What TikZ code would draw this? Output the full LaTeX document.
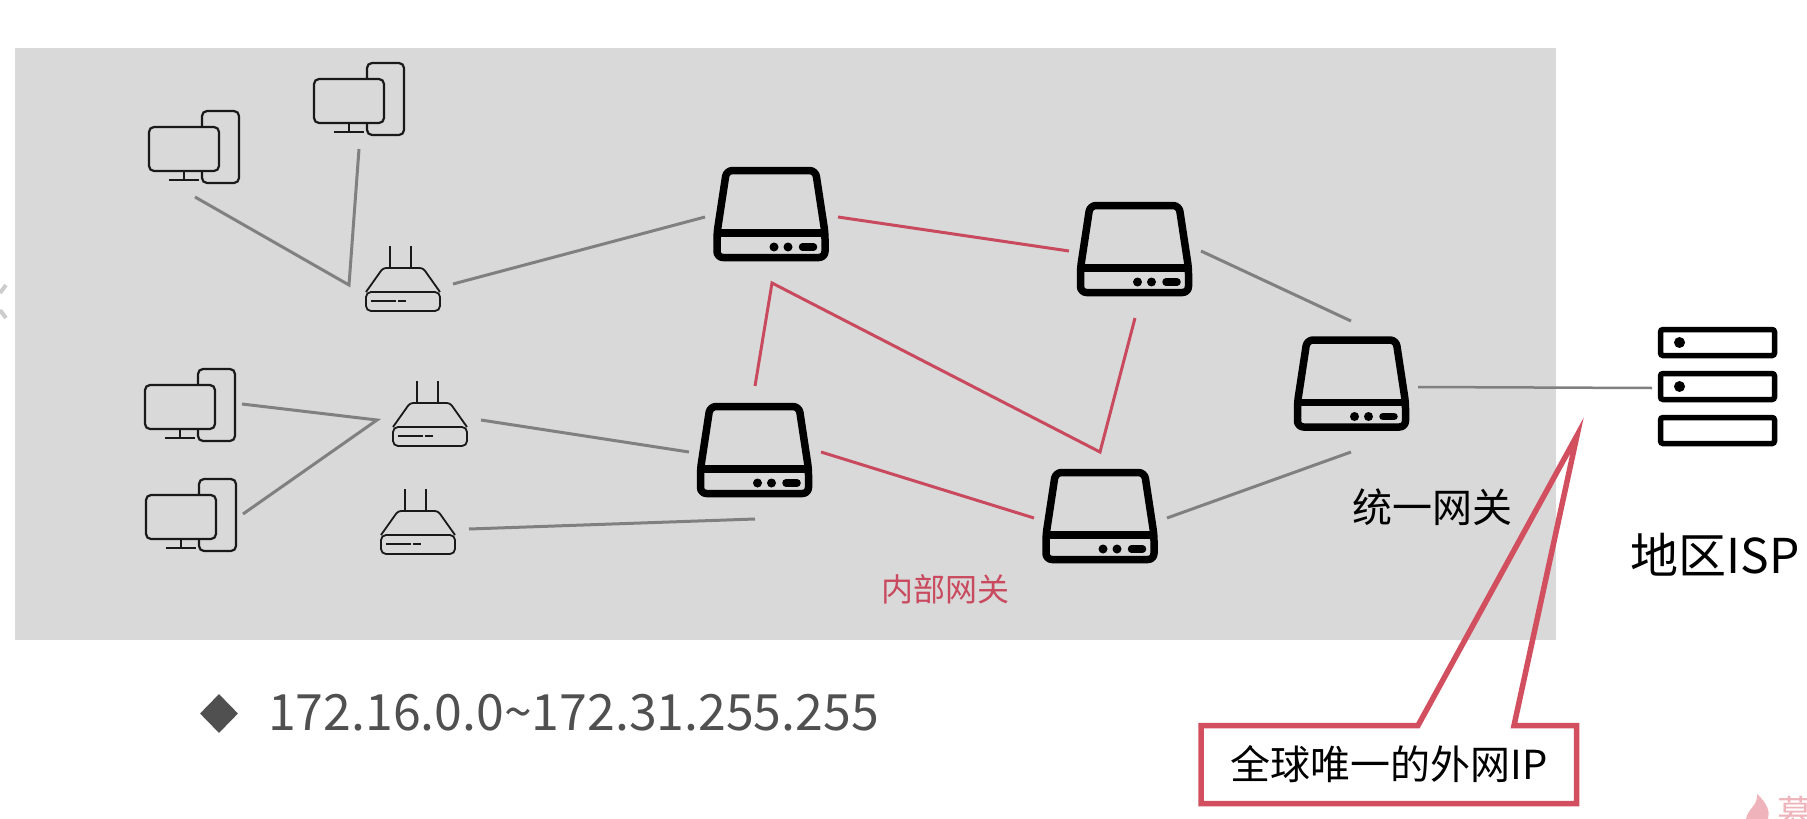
\documentclass[tikz,border=0pt]{standalone}
\usepackage{fontspec}
\setmainfont{Noto Sans CJK SC}
\usetikzlibrary{shapes.geometric}
\definecolor{panelgray}{HTML}{D9D9D9}
\definecolor{linkgray}{HTML}{808080}
\definecolor{linkred}{HTML}{C94A5E}
\definecolor{boxred}{HTML}{D24F60}
\definecolor{textgray}{HTML}{505050}
\definecolor{markpink}{HTML}{EFB3BB}
\tikzstyle{graylink} = [linkgray,line width=3pt]
\tikzstyle{redlink} = [linkred,line width=3pt]
\tikzstyle{thinicon} = [black!90,line width=2.2pt,rounded corners=5pt]
\tikzstyle{fatbox} = [black,line width=5.5pt,rounded corners=2.5pt]
\tikzset{
	pcicon/.pic={
		\draw [thinicon] (53,0)--(53,-16)--(90,-16)--(90,56)--(53,56)--(53,44);
		\draw [thinicon] (0,0) rectangle (70,44);
		\draw [thinicon] (35,44)--(35,53);
		\draw [thinicon] (20,53)--(50,53);
	},
	routericon/.pic={
		\draw [black!90,line width=1.8pt,rounded corners=3pt] (0,0)--(17,-24)--(57,-24)--(74,0);
		\draw [black!90,line width=1.8pt,rounded corners=5pt] (0,0)--(0,19)--(74,19)--(74,0)--cycle;
		\draw [black!90,line width=1.8pt] (24,-24)--(24,-46);
		\draw [black!90,line width=1.8pt] (45,-24)--(45,-46);
		\draw [black!90,line width=1.8pt] (5,9)--(30,9);
		\draw [black!90,line width=1.8pt] (32,9)--(40,9);
	},
	gateicon/.pic={
		\draw [black,line width=7.5pt,rounded corners=6pt,line join=round] (-54,19)--(-44.5,-43.5)--(44.5,-43.5)--(54,19)--(54,43.5)--(-54,43.5)--cycle;
		\draw [black,line width=7.5pt] (-54,19)--(54,19);
		\fill [black] (3,33) circle (4.5pt);
		\fill [black] (17,33) circle (4.5pt);
		\draw [black,line width=7.5pt,line cap=round] (31.5,33)--(42.5,33);
	},
	ispicon/.pic={
		\draw [fatbox] (0,0) rectangle (114,26);
		\draw [fatbox] (0,44) rectangle (114,70);
		\draw [fatbox] (0,88) rectangle (114,114);
		\fill [black] (19,13) circle (5.5pt);
		\fill [black] (19,57) circle (5.5pt);
	}
}
\begin{document}
\begin{tikzpicture}[x=1pt,y=-1pt]
	\useasboundingbox (0,0) rectangle (1807,819);
	\fill [panelgray] (15,48) rectangle (1556,640);

	\draw [gray!40,line width=4pt] (6,285)--(0,293);
	\draw [gray!40,line width=4pt] (0,310)--(6,318);

	\pic (pca) at (149,127) {pcicon};
	\pic (pcb) at (314,79) {pcicon};
	\pic (pcc) at (145,385) {pcicon};
	\pic (pcd) at (146,495) {pcicon};
	\pic (rta) at (366,292) {routericon};
	\pic (rtb) at (393,427) {routericon};
	\pic (rtc) at (381,535) {routericon};
	\pic (gwa) at (771,214) {gateicon};
	\pic (gwb) at (1134.5,249) {gateicon};
	\pic (gwc) at (754.5,450) {gateicon};
	\pic (gwd) at (1100,516) {gateicon};
	\pic (gwe) at (1351.5,383.5) {gateicon};
	\pic (isp) at (1660.5,329.5) {ispicon};

	\coordinate (pcaend) at (195,197);
	\coordinate (pcbend) at (359,149);
	\coordinate (rtain) at (349,285);
	\coordinate (rtaout) at (453,284);
	\coordinate (pccend) at (242,404);
	\coordinate (pcdend) at (243,514);
	\coordinate (rtbin) at (377,420);
	\coordinate (rtbout) at (481,420);
	\coordinate (rtcout) at (469,529);
	\coordinate (gwawest) at (705,217);
	\coordinate (gwaeast) at (838,217);
	\coordinate (gwasouth) at (772,283);
	\coordinate (gwbwest) at (1069,251);
	\coordinate (gwbeast) at (1201,251);
	\coordinate (gwbsouth) at (1135,318);
	\coordinate (gwcwest) at (689,452);
	\coordinate (gwceast) at (821,452);
	\coordinate (gwcnorth) at (755,386);
	\coordinate (gwcsouth) at (755,519);
	\coordinate (gwdwest) at (1034,518);
	\coordinate (gwdeast) at (1167,518);
	\coordinate (gwdnorth) at (1100,452);
	\coordinate (gwenorth) at (1351,321);
	\coordinate (gwesouth) at (1351,452);
	\coordinate (gweeast) at (1418,387);
	\coordinate (ispwest) at (1652,388);

	\draw [graylink] (pcaend)--(rtain)--(pcbend);
	\draw [graylink] (pccend)--(rtbin)--(pcdend);
	\draw [graylink] (rtaout)--(gwawest);
	\draw [graylink] (rtbout)--(gwcwest);
	\draw [graylink] (rtcout)--(gwcsouth);
	\draw [redlink] (gwaeast)--(gwbwest);
	\draw [redlink] (gwceast)--(gwdwest);
	\draw [redlink] (gwcnorth)--(gwasouth)--(gwdnorth)--(gwbsouth);
	\draw [graylink] (gwbeast)--(gwenorth);
	\draw [graylink] (gwesouth)--(gwdeast);
	\draw [linkgray,line width=2.5pt] (gweeast)--(ispwest);

	\node [font=\fontsize{40}{48}\selectfont] (unified) at (1432,507) {统一网关};
	\node [linkred,font=\fontsize{32}{38}\selectfont] (inner) at (945,589) {内部网关};
	\node [font=\fontsize{48}{56}\selectfont] (region) at (1715,555) {地区ISP};

	\node [draw=none,fill=textgray,diamond,minimum width=38pt,minimum height=39pt,inner sep=0pt] (bullet) at (219,713.5) {};
	\node [textgray,anchor=west,inner sep=0pt,font=\fontsize{50}{60}\selectfont] (range) at (268,713) {172.16.0.0\textasciitilde172.31.255.255};

	\draw [boxred,line width=5.5pt] (1418,725.5)--(1577,435.5)--(1514,725.5)--(1576.5,725.5)--(1576.5,803.5)--(1201,803.5)--(1201,725.5)--cycle;
	\node [font=\fontsize{40}{46}\selectfont] (globalip) at (1389,764) {全球唯一的外网IP};

	\begin{scope}
		\clip (1727,769) rectangle (1807,819);
		\fill [markpink] (1746,819) .. controls (1748,808) and (1758,806) .. (1757,794) .. controls (1768,804) and (1770,812) .. (1768,819) -- cycle;
		\node [markpink,font=\fontsize{36}{40}\selectfont,anchor=north west,inner sep=0pt] (mark) at (1777,796) {慕};
	\end{scope}
\end{tikzpicture}
\end{document}
